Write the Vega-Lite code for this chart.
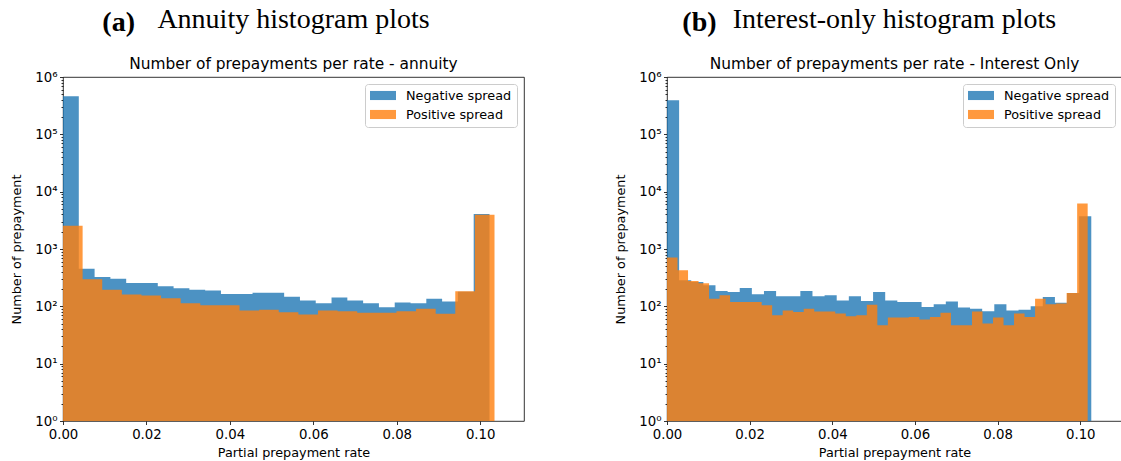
{
  "$schema": "https://vega.github.io/schema/vega-lite/v6.json",
  "background": "white",
  "padding": {"left": 10, "top": 5, "right": 0, "bottom": 2},
  "spacing": 89,
  "resolve": {"scale": {"color": "independent"}, "legend": {"color": "independent"}},
  "config": {
    "view": {"stroke": "black", "strokeWidth": 0.8},
    "font": "DejaVu Sans",
    "axis": {"domain": false, "grid": false, "labelFlush": false, "tickColor": "black", "tickWidth": 0.8, "tickSize": 3.5, "labelColor": "black", "labelFontSize": 13.3, "labelFont": "DejaVu Sans", "titleFont": "DejaVu Sans", "titleFontSize": 12.8, "titleFontWeight": "normal", "titleColor": "black"},
    "legend": {"padding": 5, "strokeColor": "#cccccc", "fillColor": "rgba(255,255,255,0.8)", "cornerRadius": 3, "symbolType": "M-2,-0.7L2,-0.7L2,0.7L-2,0.7Z", "symbolSize": 169, "symbolOffset": 6.5, "symbolOpacity": 0.8, "symbolStrokeWidth": 0, "labelFontSize": 12.8, "labelColor": "black", "labelFont": "DejaVu Sans", "rowPadding": 5, "labelOffset": 16.5}
  },
  "datasets": {
    "annuity": [
      {"s": "Negative spread", "lo": 0, "hi": 0.003786, "n": 460000},
      {"s": "Negative spread", "lo": 0.003786, "hi": 0.007573, "n": 454},
      {"s": "Negative spread", "lo": 0.007573, "hi": 0.011359, "n": 325},
      {"s": "Negative spread", "lo": 0.011359, "hi": 0.015145, "n": 302},
      {"s": "Negative spread", "lo": 0.015145, "hi": 0.018932, "n": 254},
      {"s": "Negative spread", "lo": 0.018932, "hi": 0.022718, "n": 254},
      {"s": "Negative spread", "lo": 0.022718, "hi": 0.026504, "n": 223},
      {"s": "Negative spread", "lo": 0.026504, "hi": 0.030290, "n": 206},
      {"s": "Negative spread", "lo": 0.030290, "hi": 0.034077, "n": 195},
      {"s": "Negative spread", "lo": 0.034077, "hi": 0.037863, "n": 188},
      {"s": "Negative spread", "lo": 0.037863, "hi": 0.041649, "n": 164},
      {"s": "Negative spread", "lo": 0.041649, "hi": 0.045436, "n": 164},
      {"s": "Negative spread", "lo": 0.045436, "hi": 0.049222, "n": 173},
      {"s": "Negative spread", "lo": 0.049222, "hi": 0.053008, "n": 173},
      {"s": "Negative spread", "lo": 0.053008, "hi": 0.056795, "n": 147},
      {"s": "Negative spread", "lo": 0.056795, "hi": 0.060581, "n": 127},
      {"s": "Negative spread", "lo": 0.060581, "hi": 0.064367, "n": 113},
      {"s": "Negative spread", "lo": 0.064367, "hi": 0.068153, "n": 142},
      {"s": "Negative spread", "lo": 0.068153, "hi": 0.071940, "n": 127},
      {"s": "Negative spread", "lo": 0.071940, "hi": 0.075726, "n": 113},
      {"s": "Negative spread", "lo": 0.075726, "hi": 0.079512, "n": 96},
      {"s": "Negative spread", "lo": 0.079512, "hi": 0.083299, "n": 117},
      {"s": "Negative spread", "lo": 0.083299, "hi": 0.087085, "n": 113},
      {"s": "Negative spread", "lo": 0.087085, "hi": 0.090871, "n": 136},
      {"s": "Negative spread", "lo": 0.090871, "hi": 0.094658, "n": 122},
      {"s": "Negative spread", "lo": 0.094658, "hi": 0.098444, "n": 180},
      {"s": "Negative spread", "lo": 0.098444, "hi": 0.102230, "n": 4075},
      {"s": "Positive spread", "lo": 0, "hi": 0.004701, "n": 2553},
      {"s": "Positive spread", "lo": 0.004701, "hi": 0.009403, "n": 298},
      {"s": "Positive spread", "lo": 0.009403, "hi": 0.014104, "n": 195},
      {"s": "Positive spread", "lo": 0.014104, "hi": 0.018806, "n": 161},
      {"s": "Positive spread", "lo": 0.018806, "hi": 0.023507, "n": 155},
      {"s": "Positive spread", "lo": 0.023507, "hi": 0.028208, "n": 139},
      {"s": "Positive spread", "lo": 0.028208, "hi": 0.032910, "n": 113},
      {"s": "Positive spread", "lo": 0.032910, "hi": 0.037611, "n": 104},
      {"s": "Positive spread", "lo": 0.037611, "hi": 0.042313, "n": 104},
      {"s": "Positive spread", "lo": 0.042313, "hi": 0.047014, "n": 85},
      {"s": "Positive spread", "lo": 0.047014, "hi": 0.051715, "n": 87},
      {"s": "Positive spread", "lo": 0.051715, "hi": 0.056417, "n": 79},
      {"s": "Positive spread", "lo": 0.056417, "hi": 0.061118, "n": 72},
      {"s": "Positive spread", "lo": 0.061118, "hi": 0.065820, "n": 85},
      {"s": "Positive spread", "lo": 0.065820, "hi": 0.070521, "n": 82},
      {"s": "Positive spread", "lo": 0.070521, "hi": 0.075222, "n": 77},
      {"s": "Positive spread", "lo": 0.075222, "hi": 0.079924, "n": 77},
      {"s": "Positive spread", "lo": 0.079924, "hi": 0.084625, "n": 82},
      {"s": "Positive spread", "lo": 0.084625, "hi": 0.089327, "n": 91},
      {"s": "Positive spread", "lo": 0.089327, "hi": 0.094028, "n": 74},
      {"s": "Positive spread", "lo": 0.094028, "hi": 0.098729, "n": 183},
      {"s": "Positive spread", "lo": 0.098729, "hi": 0.103431, "n": 3970}
    ],
    "io": [
      {"s": "Negative spread", "lo": 0, "hi": 0.002933, "n": 392000},
      {"s": "Negative spread", "lo": 0.002933, "hi": 0.005867, "n": 285},
      {"s": "Negative spread", "lo": 0.005867, "hi": 0.008800, "n": 265},
      {"s": "Negative spread", "lo": 0.008800, "hi": 0.011733, "n": 233},
      {"s": "Negative spread", "lo": 0.011733, "hi": 0.014667, "n": 185},
      {"s": "Negative spread", "lo": 0.014667, "hi": 0.017600, "n": 178},
      {"s": "Negative spread", "lo": 0.017600, "hi": 0.020533, "n": 209},
      {"s": "Negative spread", "lo": 0.020533, "hi": 0.023466, "n": 162},
      {"s": "Negative spread", "lo": 0.023466, "hi": 0.026400, "n": 185},
      {"s": "Negative spread", "lo": 0.026400, "hi": 0.029333, "n": 150},
      {"s": "Negative spread", "lo": 0.029333, "hi": 0.032266, "n": 150},
      {"s": "Negative spread", "lo": 0.032266, "hi": 0.035200, "n": 185},
      {"s": "Negative spread", "lo": 0.035200, "hi": 0.038133, "n": 150},
      {"s": "Negative spread", "lo": 0.038133, "hi": 0.041066, "n": 156},
      {"s": "Negative spread", "lo": 0.041066, "hi": 0.044000, "n": 127},
      {"s": "Negative spread", "lo": 0.044000, "hi": 0.046933, "n": 150},
      {"s": "Negative spread", "lo": 0.046933, "hi": 0.049866, "n": 124},
      {"s": "Negative spread", "lo": 0.049866, "hi": 0.052799, "n": 178},
      {"s": "Negative spread", "lo": 0.052799, "hi": 0.055733, "n": 127},
      {"s": "Negative spread", "lo": 0.055733, "hi": 0.058666, "n": 119},
      {"s": "Negative spread", "lo": 0.058666, "hi": 0.061599, "n": 119},
      {"s": "Negative spread", "lo": 0.061599, "hi": 0.064533, "n": 97},
      {"s": "Negative spread", "lo": 0.064533, "hi": 0.067466, "n": 109},
      {"s": "Negative spread", "lo": 0.067466, "hi": 0.070399, "n": 122},
      {"s": "Negative spread", "lo": 0.070399, "hi": 0.073333, "n": 95},
      {"s": "Negative spread", "lo": 0.073333, "hi": 0.076266, "n": 91},
      {"s": "Negative spread", "lo": 0.076266, "hi": 0.079199, "n": 82},
      {"s": "Negative spread", "lo": 0.079199, "hi": 0.082132, "n": 109},
      {"s": "Negative spread", "lo": 0.082132, "hi": 0.085066, "n": 85},
      {"s": "Negative spread", "lo": 0.085066, "hi": 0.087999, "n": 87},
      {"s": "Negative spread", "lo": 0.087999, "hi": 0.090932, "n": 100},
      {"s": "Negative spread", "lo": 0.090932, "hi": 0.093866, "n": 146},
      {"s": "Negative spread", "lo": 0.093866, "hi": 0.096799, "n": 115},
      {"s": "Negative spread", "lo": 0.096799, "hi": 0.099732, "n": 170},
      {"s": "Negative spread", "lo": 0.099732, "hi": 0.102666, "n": 3720},
      {"s": "Positive spread", "lo": 0, "hi": 0.002545, "n": 708},
      {"s": "Positive spread", "lo": 0.002545, "hi": 0.005090, "n": 425},
      {"s": "Positive spread", "lo": 0.005090, "hi": 0.007634, "n": 277},
      {"s": "Positive spread", "lo": 0.007634, "hi": 0.010179, "n": 252},
      {"s": "Positive spread", "lo": 0.010179, "hi": 0.012724, "n": 136},
      {"s": "Positive spread", "lo": 0.012724, "hi": 0.015269, "n": 156},
      {"s": "Positive spread", "lo": 0.015269, "hi": 0.017814, "n": 119},
      {"s": "Positive spread", "lo": 0.017814, "hi": 0.020358, "n": 119},
      {"s": "Positive spread", "lo": 0.020358, "hi": 0.022903, "n": 119},
      {"s": "Positive spread", "lo": 0.022903, "hi": 0.025448, "n": 104},
      {"s": "Positive spread", "lo": 0.025448, "hi": 0.027993, "n": 70},
      {"s": "Positive spread", "lo": 0.027993, "hi": 0.030538, "n": 85},
      {"s": "Positive spread", "lo": 0.030538, "hi": 0.033082, "n": 80},
      {"s": "Positive spread", "lo": 0.033082, "hi": 0.035627, "n": 91},
      {"s": "Positive spread", "lo": 0.035627, "hi": 0.038172, "n": 81},
      {"s": "Positive spread", "lo": 0.038172, "hi": 0.040717, "n": 81},
      {"s": "Positive spread", "lo": 0.040717, "hi": 0.043262, "n": 75},
      {"s": "Positive spread", "lo": 0.043262, "hi": 0.045806, "n": 67},
      {"s": "Positive spread", "lo": 0.045806, "hi": 0.048351, "n": 70},
      {"s": "Positive spread", "lo": 0.048351, "hi": 0.050896, "n": 107},
      {"s": "Positive spread", "lo": 0.050896, "hi": 0.053441, "n": 47},
      {"s": "Positive spread", "lo": 0.053441, "hi": 0.055986, "n": 64},
      {"s": "Positive spread", "lo": 0.055986, "hi": 0.058530, "n": 64},
      {"s": "Positive spread", "lo": 0.058530, "hi": 0.061075, "n": 65},
      {"s": "Positive spread", "lo": 0.061075, "hi": 0.063620, "n": 59},
      {"s": "Positive spread", "lo": 0.063620, "hi": 0.066165, "n": 65},
      {"s": "Positive spread", "lo": 0.066165, "hi": 0.068710, "n": 77},
      {"s": "Positive spread", "lo": 0.068710, "hi": 0.071254, "n": 47},
      {"s": "Positive spread", "lo": 0.071254, "hi": 0.073799, "n": 47},
      {"s": "Positive spread", "lo": 0.073799, "hi": 0.076344, "n": 81},
      {"s": "Positive spread", "lo": 0.076344, "hi": 0.078889, "n": 50},
      {"s": "Positive spread", "lo": 0.078889, "hi": 0.081434, "n": 64},
      {"s": "Positive spread", "lo": 0.081434, "hi": 0.083978, "n": 47},
      {"s": "Positive spread", "lo": 0.083978, "hi": 0.086523, "n": 75},
      {"s": "Positive spread", "lo": 0.086523, "hi": 0.089068, "n": 65},
      {"s": "Positive spread", "lo": 0.089068, "hi": 0.091613, "n": 136},
      {"s": "Positive spread", "lo": 0.091613, "hi": 0.094158, "n": 109},
      {"s": "Positive spread", "lo": 0.094158, "hi": 0.096702, "n": 112},
      {"s": "Positive spread", "lo": 0.096702, "hi": 0.099247, "n": 171},
      {"s": "Positive spread", "lo": 0.099247, "hi": 0.101792, "n": 6190}
    ]
  },
  "hconcat": [
    {
      "title": {"text": "(a)", "font": "Liberation Serif", "fontSize": 28, "fontWeight": "bold", "color": "black", "anchor": "start", "frame": "bounds", "dx": 92, "dy": 32, "offset": 0},
      "resolve": {"scale": {"color": "independent"}, "legend": {"color": "independent"}},
      "vconcat": [
        {
          "width": 461,
          "height": 344,
          "data": {"name": "annuity"},
          "transform": [{"fold": ["lo", "hi"], "as": ["edge", "xv"]}],
          "title": {"text": "Annuity histogram plots", "subtitle": "Number of prepayments per rate - annuity", "font": "Liberation Serif", "fontSize": 28, "fontWeight": "normal", "color": "black", "subtitleFont": "DejaVu Sans", "subtitleFontSize": 15.4, "subtitleColor": "black", "subtitlePadding": 23, "offset": -2, "anchor": "middle"},
          "mark": {"type": "area", "opacity": 0.8, "interpolate": "linear"},
          "encoding": {
            "x": {"field": "xv", "type": "quantitative", "scale": {"domain": [0, 0.1105], "nice": false, "zero": false}, "axis": {"values": [0, 0.02, 0.04, 0.06, 0.08, 0.1], "format": ".2f", "title": "Partial prepayment rate", "labelPadding": 3, "titlePadding": 6}},
            "y": {"field": "n", "type": "quantitative", "stack": null, "scale": {"type": "log", "domain": [1, 1000000], "nice": false}, "axis": {"title": "Number of prepayment", "titlePadding": 11, "labelPadding": 2.5, "labelOverlap": false, "values": [1,2,3,4,5,6,7,8,9,10,20,30,40,50,60,70,80,90,100,200,300,400,500,600,700,800,900,1000,2000,3000,4000,5000,6000,7000,8000,9000,10000,20000,30000,40000,50000,60000,70000,80000,90000,100000,200000,300000,400000,500000,600000,700000,800000,900000,1000000], "tickSize": {"condition": {"test": "indexof([1,10,100,1000,10000,100000,1000000], datum.value) >= 0", "value": 3.5}, "value": 2}, "labelExpr": "indexof([1,10,100,1000,10000,100000,1000000], datum.value) >= 0 ? '10' + ['⁰','¹','²','³','⁴','⁵','⁶'][indexof([1,10,100,1000,10000,100000,1000000], datum.value)] : ''"}},
            "y2": {"datum": 1},
            "order": [{"field": "xv", "type": "quantitative"}, {"field": "edge", "type": "nominal"}],
            "color": {"field": "s", "type": "nominal", "scale": {"domain": ["Negative spread", "Positive spread"], "range": ["#1f77b4", "#ff7f0e"]}, "legend": {"title": null, "orient": "top-right", "offset": 7}}
          }
        }
      ]
    },
    {
      "title": {"text": "(b)", "font": "Liberation Serif", "fontSize": 28, "fontWeight": "bold", "color": "black", "anchor": "start", "frame": "bounds", "dx": 68, "dy": 32, "offset": 0},
      "resolve": {"scale": {"color": "independent"}, "legend": {"color": "independent"}},
      "vconcat": [
        {
          "width": 455,
          "height": 344,
          "data": {"name": "io"},
          "transform": [{"fold": ["lo", "hi"], "as": ["edge", "xv"]}],
          "title": {"text": "Interest-only histogram plots", "subtitle": "Number of prepayments per rate - Interest Only", "font": "Liberation Serif", "fontSize": 28, "fontWeight": "normal", "color": "black", "subtitleFont": "DejaVu Sans", "subtitleFontSize": 15.4, "subtitleColor": "black", "subtitlePadding": 23, "offset": -2, "anchor": "middle"},
          "mark": {"type": "area", "opacity": 0.8, "interpolate": "linear"},
          "encoding": {
            "x": {"field": "xv", "type": "quantitative", "scale": {"domain": [0, 0.1101], "nice": false, "zero": false}, "axis": {"values": [0, 0.02, 0.04, 0.06, 0.08, 0.1], "format": ".2f", "title": "Partial prepayment rate", "labelPadding": 3, "titlePadding": 6}},
            "y": {"field": "n", "type": "quantitative", "stack": null, "scale": {"type": "log", "domain": [1, 1000000], "nice": false}, "axis": {"title": "Number of prepayment", "titlePadding": 11, "labelPadding": 2.5, "labelOverlap": false, "values": [1,2,3,4,5,6,7,8,9,10,20,30,40,50,60,70,80,90,100,200,300,400,500,600,700,800,900,1000,2000,3000,4000,5000,6000,7000,8000,9000,10000,20000,30000,40000,50000,60000,70000,80000,90000,100000,200000,300000,400000,500000,600000,700000,800000,900000,1000000], "tickSize": {"condition": {"test": "indexof([1,10,100,1000,10000,100000,1000000], datum.value) >= 0", "value": 3.5}, "value": 2}, "labelExpr": "indexof([1,10,100,1000,10000,100000,1000000], datum.value) >= 0 ? '10' + ['⁰','¹','²','³','⁴','⁵','⁶'][indexof([1,10,100,1000,10000,100000,1000000], datum.value)] : ''"}},
            "y2": {"datum": 1},
            "order": [{"field": "xv", "type": "quantitative"}, {"field": "edge", "type": "nominal"}],
            "color": {"field": "s", "type": "nominal", "scale": {"domain": ["Negative spread", "Positive spread"], "range": ["#1f77b4", "#ff7f0e"]}, "legend": {"title": null, "orient": "top-right", "offset": 7}}
          }
        }
      ]
    }
  ]
}
